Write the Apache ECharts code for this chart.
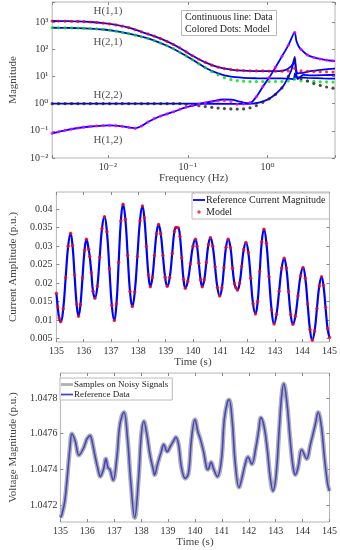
<!DOCTYPE html>
<html><head><meta charset="utf-8">
<script src="https://cdn.jsdelivr.net/npm/echarts@6/dist/echarts.min.js"></script>
<style>html,body{margin:0;padding:0;background:#fff}#c{width:340px;height:550px}</style>
</head><body><div id="c"></div>
<script>
// ---------- Panel 1: frequency response magnitudes ----------
const freqDots = [0.0020,0.0024,0.0029,0.0035,0.0042,0.0050,0.0060,0.0072,0.0087,0.0105,0.0126,0.0151,0.0182,0.0219,0.0263,0.0316,0.0380,0.0457,0.0550,0.0661,0.0794,0.0955,0.115,0.138,0.166,0.200,0.240,0.288,0.347,0.417,0.501,0.603,0.724,0.871,1.047,1.259,1.514,1.820,2.188,2.630,3.162,3.802,4.571,5.495,6.607];
const h11Dots = [1100,1095,1085,1075,1060,1040,1010,970,920,860,790,710,630,525,440,370,305,245,195,150,112,80,58,43,33,26,22,19.5,18,17,16.5,16.2,16,16,15.8,15.6,15.6,16,20,16,15.5,15.2,15,14.8,14.5];
const h21Dots = [620,618,614,610,602,592,578,560,535,505,465,420,375,330,290,250,210,170,135,105,78,57,41,29,21,15,11.5,9,7.6,7,6.7,6.5,6.5,6.5,6.5,6.5,6.5,6.8,8,7,6.8,6.6,6.4,6.3,6.2];
const h22Dots = [1,1,1,1,1,1,1,1,1,1,1,1,1,1,1,1,1,1,1,1,1,0.95,0.9,0.84,0.78,0.73,0.69,0.66,0.64,0.63,0.64,0.7,0.85,1.12,1.5,2.2,3.8,10,40,8.5,6.8,5.5,4.7,4.1,3.7];
const h12Dots = [0.081,0.092,0.104,0.116,0.127,0.136,0.144,0.151,0.156,0.158,0.155,0.146,0.134,0.124,0.15,0.21,0.28,0.35,0.42,0.5,0.62,0.74,0.85,0.97,1.08,1.18,1.25,1.28,1.2,0.95,0.97,1.1,1.8,4.2,9,22,55,140,420,100,62,50,44,40,37.5];

const h11Line = [[0.002,1100],[0.003,1082],[0.0042,1060],[0.006,1010],[0.0087,920],[0.0126,790],[0.0182,630],[0.0263,440],[0.038,305],[0.055,195],[0.0794,112],[0.115,58],[0.166,33],[0.24,22],[0.347,18],[0.5,16.3],[0.724,15.8],[1.05,15.6],[1.4,15.8],[1.7,17.5],[1.95,23],[2.1,30],[2.19,38],[2.27,19],[2.4,13],[2.7,13.5],[3.2,15],[4,16.5],[5,18],[7,19.5]];
const h21Line = [[0.002,620],[0.003,612],[0.0042,602],[0.006,578],[0.0087,535],[0.0126,465],[0.0182,375],[0.0263,290],[0.038,210],[0.055,135],[0.0794,78],[0.115,41],[0.166,21],[0.24,13],[0.347,9.8],[0.5,8.9],[0.724,8.6],[1.05,8.5],[1.5,8.5],[2.0,8.2],[2.13,7.8],[2.2,13],[2.28,9.3],[2.5,9.2],[3.2,8.9],[5,8.5],[7,8.3]];
const h22Line = [[0.002,1],[0.05,1],[0.2,0.99],[0.45,0.98],[0.65,1.0],[0.8,1.12],[1.0,1.4],[1.2,2.0],[1.4,3.0],[1.6,4.8],[1.8,9],[2.0,18],[2.19,52],[2.28,14],[2.38,8],[2.5,9],[2.8,11.5],[3.5,11],[5,11.2],[7,11.5]];
const h12Line = [[0.002,0.081],[0.0029,0.104],[0.0042,0.127],[0.006,0.144],[0.0087,0.156],[0.0105,0.158],[0.0151,0.146],[0.0219,0.124],[0.0263,0.15],[0.0316,0.21],[0.0457,0.35],[0.0661,0.5],[0.0955,0.74],[0.138,0.97],[0.2,1.2],[0.28,1.42],[0.35,1.4],[0.42,1.25],[0.5,1.1],[0.6,1.04],[0.724,1.8],[0.871,4.2],[1.047,9],[1.259,22],[1.514,55],[1.82,140],[2.19,420],[2.3,200],[2.45,130],[2.63,100],[3.16,62],[3.8,50],[4.57,44],[5.5,40],[7,37]];

const hLabels = [['H(1,1)',0.01,2500],['H(2,1)',0.01,189],['H(2,2)',0.01,2.07],['H(1,2)',0.01,0.046]];

// ---------- Panel 2: current amplitude ----------
const currentTime = [135.00,135.05,135.10,135.16,135.25,135.34,135.43,135.52,135.59,135.665,135.74,135.81,135.88,135.955,136.03,136.10,136.18,136.22,136.28,136.34,136.41,136.50,136.585,136.67,136.76,136.85,136.94,137.03,137.12,137.20,137.28,137.36,137.44,137.525,137.61,137.695,137.78,137.87,137.965,138.06,138.15,138.22,138.295,138.37,138.44,138.515,138.59,138.665,138.74,138.82,138.90,138.98,139.06,139.15,139.24,139.32,139.38,139.46,139.525,139.59,139.655,139.72,139.81,139.905,140.00,140.09,140.15,140.215,140.28,140.34,140.415,140.49,140.565,140.64,140.725,140.81,140.895,140.98,141.06,141.135,141.21,141.29,141.375,141.45,141.52,141.57,141.63,141.71,141.785,141.86,141.94,142.03,142.115,142.20,142.29,142.37,142.445,142.52,142.60,142.69,142.785,142.88,142.97,143.06,143.155,143.25,143.34,143.42,143.50,143.58,143.66,143.75,143.845,143.94,144.03,144.115,144.20,144.285,144.37,144.455,144.54,144.625,144.71,144.78,144.855,144.93,145.00];
const currentAmp = [0.0172,0.0135,0.0105,0.0095,0.0130,0.0215,0.0300,0.0335,0.0302,0.0222,0.0143,0.0110,0.0141,0.0214,0.0288,0.0319,0.0292,0.0272,0.0228,0.0178,0.0159,0.0191,0.0270,0.0348,0.0380,0.0339,0.0239,0.0139,0.0098,0.0144,0.0256,0.0368,0.0414,0.0373,0.0275,0.0177,0.0136,0.0176,0.0272,0.0369,0.0409,0.0377,0.0300,0.0222,0.0190,0.0215,0.0275,0.0334,0.0359,0.0334,0.0275,0.0216,0.0191,0.0215,0.0280,0.0340,0.0351,0.0350,0.0326,0.0268,0.0210,0.0186,0.0205,0.0252,0.0300,0.0319,0.0300,0.0254,0.0209,0.0190,0.0209,0.0256,0.0304,0.0323,0.0300,0.0244,0.0188,0.0165,0.0187,0.0242,0.0297,0.0319,0.0296,0.0240,0.0198,0.0188,0.0181,0.0200,0.0245,0.0291,0.0310,0.0282,0.0213,0.0144,0.0116,0.0150,0.0231,0.0312,0.0346,0.0308,0.0217,0.0127,0.0089,0.0115,0.0178,0.0241,0.0267,0.0241,0.0177,0.0114,0.0088,0.0110,0.0165,0.0220,0.0242,0.0213,0.0143,0.0074,0.0045,0.0070,0.0131,0.0192,0.0217,0.0193,0.0134,0.0076,0.0052];
const currentTicks = [0.005,0.01,0.015,0.02,0.025,0.03,0.035,0.04];

// ---------- Panel 3: voltage magnitude ----------
const voltTime = [135.00,135.06,135.17,135.28,135.36,135.43,135.55,135.69,135.86,135.98,136.03,136.10,136.16,136.28,136.40,136.48,136.60,136.69,136.77,136.84,136.96,137.10,137.21,137.36,137.49,137.61,137.76,137.90,138.01,138.10,138.21,138.33,138.45,138.50,138.61,138.75,138.84,138.97,139.09,139.24,139.29,139.39,139.50,139.64,139.76,139.87,140.00,140.11,140.20,140.32,140.43,140.48,140.60,140.70,140.83,140.98,141.09,141.21,141.27,141.38,141.50,141.64,141.76,141.85,141.97,142.11,142.26,142.37,142.45,142.57,142.69,142.80,142.90,143.01,143.13,143.22,143.30,143.42,143.53,143.65,143.73,143.83,143.97,144.15,144.29,144.47,144.58,144.70,144.81,144.93,145.00];
const voltVal = [1.04713,1.04715,1.04723,1.04740,1.04753,1.04760,1.04756,1.04748,1.04752,1.04757,1.04758,1.04759,1.04757,1.04748,1.04740,1.04736,1.04740,1.04746,1.04741,1.04740,1.04734,1.04747,1.04765,1.04772,1.04758,1.04734,1.04713,1.04734,1.04760,1.04767,1.04760,1.04748,1.04740,1.04737,1.04743,1.04750,1.04754,1.04750,1.04753,1.04757,1.04758,1.04754,1.04741,1.04735,1.04738,1.04757,1.04768,1.04761,1.04757,1.04750,1.04741,1.04740,1.04744,1.04740,1.04736,1.04745,1.04768,1.04778,1.04779,1.04768,1.04743,1.04730,1.04736,1.04742,1.04747,1.04743,1.04752,1.04762,1.04769,1.04764,1.04751,1.04735,1.04728,1.04736,1.04762,1.04781,1.04788,1.04777,1.04758,1.04741,1.04737,1.04741,1.04751,1.04746,1.04754,1.04765,1.04772,1.04764,1.04747,1.04732,1.04728];
const voltTicks = [1.0472,1.0474,1.0476,1.0478];

const FONT = 'Liberation Serif, DejaVu Serif, serif';
const sup = {'-':'\u207B','0':'\u2070','1':'\u00B9','2':'\u00B2','3':'\u00B3','4':'\u2074','5':'\u2075','6':'\u2076','7':'\u2077','8':'\u2078','9':'\u2079'};
function pow10Label(v){
  const l = Math.log10(v), r = Math.round(l);
  if (Math.abs(l - r) > 0.01) return '';
  return '10' + String(r).split('').map(c => sup[c]).join('');
}
const BORDER = '#b4b4b4';
const txt = {fontFamily: FONT, fontSize: 10, color: '#333'};
const nameTxt = {fontFamily: FONT, fontSize: 11, color: '#444'};
const tick = {show: true, inside: true, length: 3, lineStyle: {color: '#888'}};
function axisBase(extra){
  return Object.assign({
    nameLocation: 'middle', nameTextStyle: nameTxt,
    axisLine: {show: false}, splitLine: {show: false},
    axisTick: tick, axisLabel: Object.assign({margin: 4}, txt)
  }, extra);
}
// mirrored tick-only axes (box ticks on top / right)
function mirror(base, pos){
  return Object.assign({}, base, {position: pos, name: '', axisLabel: Object.assign({}, base.axisLabel, {show: false})});
}

const xMain = [
  axisBase({gridIndex: 0, type: 'log', logBase: 10, min: 0.002, max: 7, name: 'Frequency (Hz)', nameGap: 15,
    axisLabel: Object.assign({margin: 4, formatter: pow10Label}, txt)}),
  axisBase({gridIndex: 1, type: 'value', min: 135, max: 145, interval: 1, name: 'Time (s)', nameGap: 15}),
  axisBase({gridIndex: 2, type: 'value', min: 135, max: 145, interval: 1, name: 'Time (s)', nameGap: 15})
];
const yMain = [
  axisBase({gridIndex: 0, type: 'log', logBase: 10, min: 0.01, max: 5500, name: 'Magnitude', nameGap: 29,
    axisLabel: Object.assign({margin: 4, formatter: pow10Label}, txt)}),
  axisBase({gridIndex: 1, type: 'value', min: 0.004, max: 0.0447, name: 'Current Amplitude (p.u.)', nameGap: 30,
    axisTick: Object.assign({customValues: currentTicks}, tick),
    axisLabel: Object.assign({margin: 4, customValues: currentTicks}, txt)}),
  axisBase({gridIndex: 2, type: 'value', min: 1.047106, max: 1.04794, name: 'Voltage Magnitude (p.u.)', nameGap: 35,
    axisTick: Object.assign({customValues: voltTicks}, tick),
    axisLabel: Object.assign({margin: 3, customValues: voltTicks, formatter: v => v.toFixed(4)}, txt)})
];

const chart = echarts.init(document.getElementById('c'), null, {renderer: 'canvas'});
const blue = '#0000ff';
const topLine = (d) => ({type: 'line', xAxisIndex: 0, yAxisIndex: 0, data: d, symbol: 'none', smooth: 0.25, lineStyle: {color: blue, width: 1.8}, z: 2, silent: true});
const topDots = (vals, color) => ({type: 'scatter', xAxisIndex: 0, yAxisIndex: 0, data: freqDots.map((f, i) => [f, vals[i]]), symbolSize: 3.2, itemStyle: {color: color}, z: 3, silent: true});
// legend icons (12 x 8 box)
const smallDot = 'path://M0,0M12,8M4.3,4a1.7,1.7 0 1,0 3.4,0a1.7,1.7 0 1,0 -3.4,0z';
const thinBar = 'path://M0,0M12,8M0,3.1L12,3.1L12,4.9L0,4.9z';
const thickBar = 'path://M0,0M12,8M0,2.6L12,2.6L12,5.4L0,5.4z';

chart.setOption({
  animation: false,
  backgroundColor: '#fff',
  title: {
    text: 'Continuous line: Data\nColored Dots: Model',
    left: 181, top: 10, padding: [2, 4, 1, 4],
    borderColor: '#bbb', borderWidth: 1, backgroundColor: '#fff',
    textStyle: {fontFamily: FONT, fontSize: 10, fontWeight: 'normal', color: '#222', lineHeight: 11.5}
  },
  legend: [
    {data: [{name: 'Reference Current Magnitude', icon: thinBar}, {name: 'Model', icon: smallDot}], orient: 'vertical', left: 192, top: 193,
     itemWidth: 12, itemHeight: 8, itemGap: 2, padding: [2, 4, 2, 1], borderColor: '#bbb', borderWidth: 1,
     backgroundColor: '#fff', textStyle: {fontFamily: FONT, fontSize: 10, color: '#222', padding: [0, 0, 0, -4]}},
    {data: [{name: 'Samples on Noisy Signals', icon: thickBar}, {name: 'Reference Data', icon: thinBar}], orient: 'vertical', left: 60, top: 378,
     itemWidth: 12, itemHeight: 8, itemGap: 1, padding: [2, 4, 1, 1], borderColor: '#bbb', borderWidth: 1,
     backgroundColor: '#fff', textStyle: {fontFamily: FONT, fontSize: 9, color: '#222', padding: [0, 0, 0, -4]}}
  ],
  grid: [
    {left: 36, top: 2, width: 299, height: 156, show: true, borderColor: BORDER, borderWidth: 1, backgroundColor: 'transparent'},
    {left: 37.5, top: 192, width: 292.5, height: 150, show: true, borderColor: BORDER, borderWidth: 1, backgroundColor: 'transparent'},
    {left: 42.5, top: 373, width: 287.5, height: 149, show: true, borderColor: BORDER, borderWidth: 1, backgroundColor: 'transparent'}
  ],
  xAxis: xMain.concat(xMain.map(a => mirror(a, 'top'))),
  yAxis: yMain.concat(yMain.map(a => mirror(a, 'right'))),
  series: [
    topLine(h11Line), topLine(h21Line), topLine(h22Line), topLine(h12Line),
    topDots(h11Dots, '#ff0000'), topDots(h21Dots, '#00e000'), topDots(h22Dots, '#222222'), topDots(h12Dots, '#ff00ff'),
    {type: 'scatter', xAxisIndex: 0, yAxisIndex: 0, symbolSize: 0, silent: true, z: 5,
     data: hLabels.map(h => ({name: h[0], value: [h[1], h[2]]})),
     label: {show: true, position: 'inside', formatter: p => p.name, fontFamily: FONT, fontSize: 11, color: '#222'}},
    {name: 'Reference Current Magnitude', type: 'line', xAxisIndex: 1, yAxisIndex: 1,
     data: currentTime.map((t, i) => [t, currentAmp[i]]), symbol: 'none', smooth: 0.45,
     lineStyle: {color: blue, width: 2.2}, itemStyle: {color: blue}, z: 2, silent: true},
    {name: 'Model', type: 'scatter', xAxisIndex: 1, yAxisIndex: 1,
     data: currentTime.map((t, i) => [t, currentAmp[i]]), symbolSize: 3.5, itemStyle: {color: '#ee1111'}, z: 3, silent: true},
    {name: 'Samples on Noisy Signals', type: 'line', xAxisIndex: 2, yAxisIndex: 2,
     data: voltTime.map((t, i) => [t, voltVal[i]]), symbol: 'none', smooth: 0.4,
     lineStyle: {color: '#b0b0b0', width: 4.5}, itemStyle: {color: '#b0b0b0'}, z: 2, silent: true},
    {name: 'Reference Data', type: 'line', xAxisIndex: 2, yAxisIndex: 2,
     data: voltTime.map((t, i) => [t, voltVal[i]]), symbol: 'none', smooth: 0.4,
     lineStyle: {color: '#4444cc', width: 1.6}, itemStyle: {color: '#4444cc'}, z: 3, silent: true}
  ]
});
</script></body></html>
